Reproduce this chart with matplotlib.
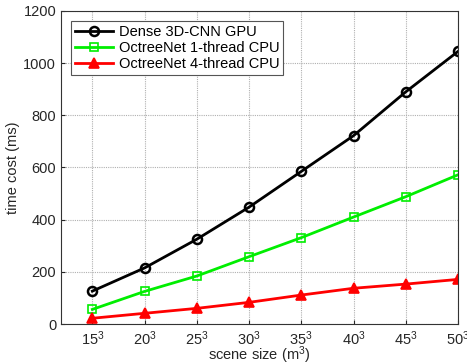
import matplotlib
matplotlib.use("Agg")
import matplotlib.pyplot as plt

sizes = [15, 20, 25, 30, 35, 40, 45, 50]
tick_labels = [r"$\mathregular{%d^3}$" % s for s in sizes]
dense_gpu = [126, 215, 325, 448, 585, 722, 890, 1045]
octree_1thread = [56, 125, 184, 258, 331, 410, 488, 572]
octree_4thread = [22, 41, 60, 83, 111, 137, 153, 171]

plt.rcParams['font.family'] = ['Liberation Sans', 'DejaVu Sans']
fig = plt.figure(figsize=(4.67, 3.64), dpi=100)
ax = fig.add_axes([61/467, 1-324/364, (458-61)/467, (324-11)/364])

ax.plot(sizes, dense_gpu, color='black', lw=2, marker='o', ms=6.5, mfc='none', mew=1.8,
        label='Dense 3D-CNN GPU')
ax.plot(sizes, octree_1thread, color='#00ee00', lw=2, marker='s', ms=5.5, mfc='none', mew=1.2,
        label='OctreeNet 1-thread CPU')
ax.plot(sizes, octree_4thread, color='red', lw=2, marker='^', ms=7.5, mfc='red', mew=1.2,
        label='OctreeNet 4-thread CPU')

ax.set_xlim(12, 50)
ax.set_ylim(0, 1200)
ax.set_xticks(sizes)
ax.set_xticklabels(tick_labels)
ax.set_yticks(range(0, 1201, 200))
ax.grid(True, linestyle=(0, (1, 1)), color='#b0b0b0', lw=0.8)
for s in ax.spines.values():
    s.set_color('#333333')
    s.set_linewidth(0.8)
ax.tick_params(direction='in', labelsize=10.5, colors='#262626', length=3)
ax.tick_params(axis='x', pad=4)
ax.set_xlabel(r'scene size ($\mathregular{m^3}$)', fontsize=10.5, labelpad=-3, color='#262626')
ax.set_ylabel('time cost (ms)', fontsize=10.5, color='#262626', labelpad=2)

leg = ax.legend(loc='upper left', fontsize=10.5, frameon=True, fancybox=False,
                edgecolor='#555555', framealpha=1, borderpad=0.25, labelspacing=0.15,
                handlelength=2.6, handletextpad=0.4, borderaxespad=0.7)
leg.get_frame().set_linewidth(0.8)

fig.savefig('out.png', dpi=100)
